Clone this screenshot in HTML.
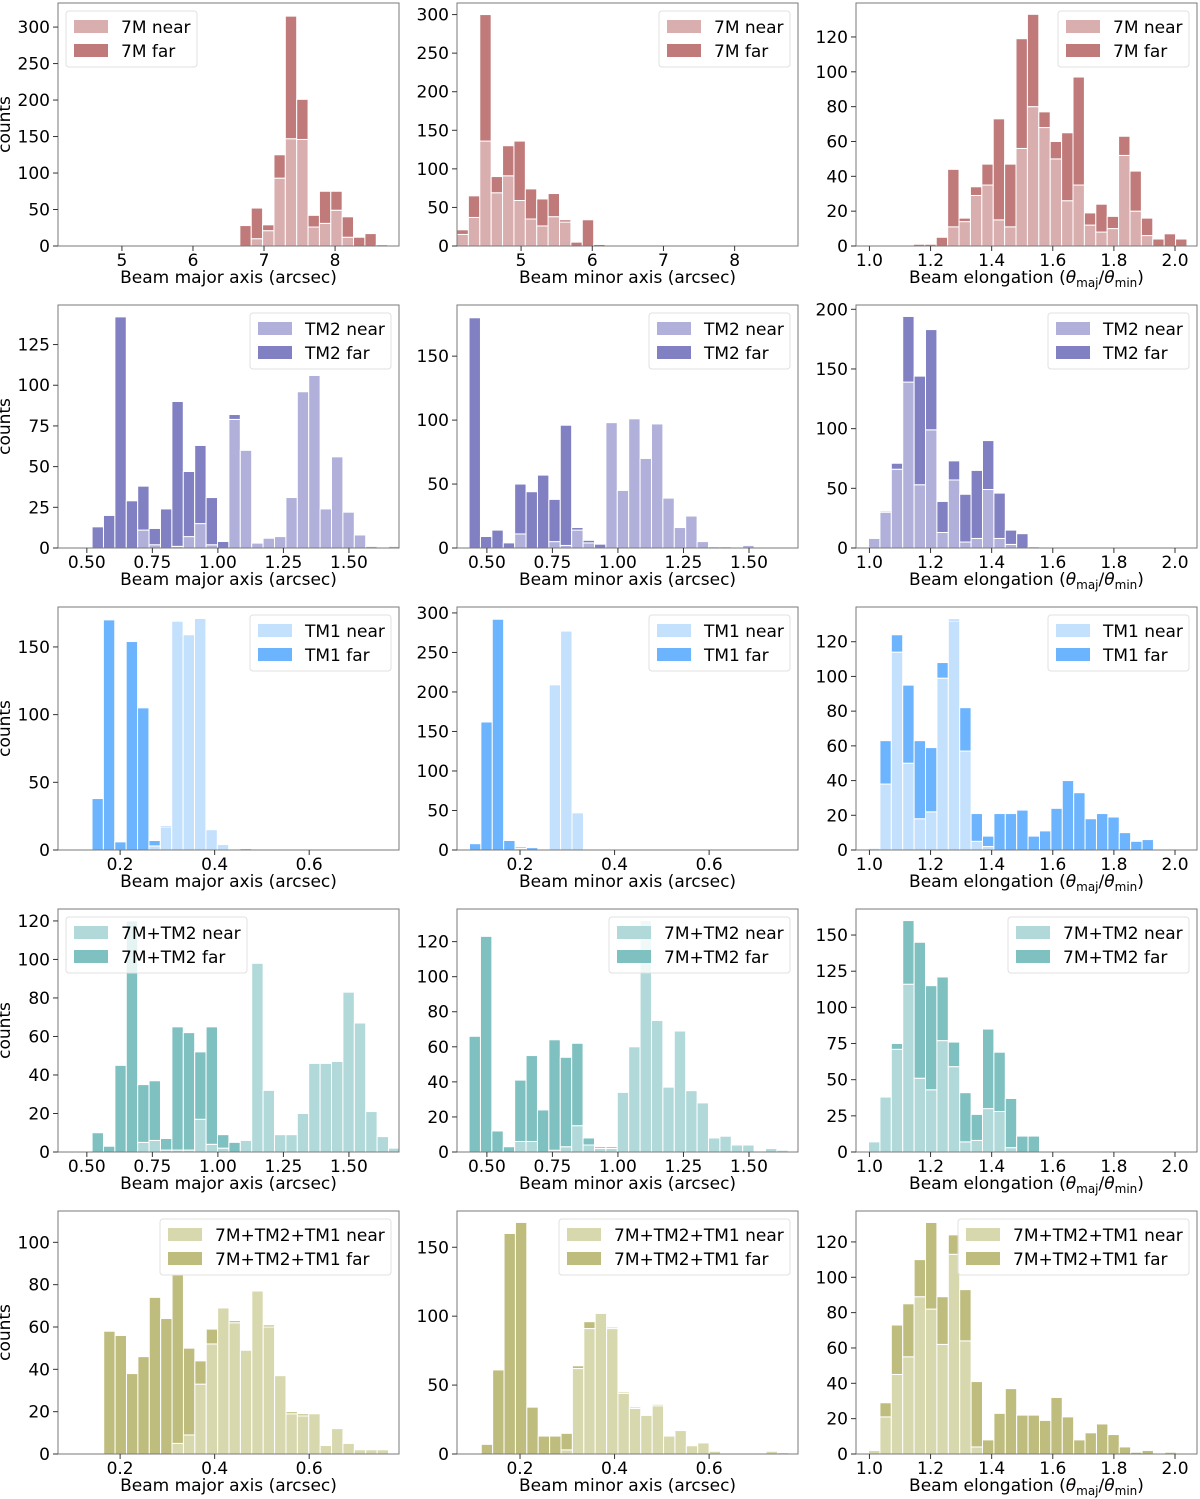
<!DOCTYPE html>
<html><head><meta charset="utf-8"><style>
body{margin:0;background:#fff;}
svg{display:block;font-family:"DejaVu Sans","Liberation Sans",sans-serif;}
</style></head><body>
<svg id="fig" width="1200" height="1499" viewBox="0 0 1200 1499" xmlns="http://www.w3.org/2000/svg"></svg>
<script>
// ---- data (counts per bin; near = bottom series, total = near+far) ----
const p11Near=[0,10,21,93,147,146,26,31,49,12,0,0,2,1];
const p11Total=[28,52,29,125,315,201,42,75,75,40,12,17,2,1];
const p12Near=[15,37,136,69,91,59,35,26,38,31,0,0,0];
const p12Total=[21,65,300,90,130,136,74,61,68,34,5,34,2];
const p13Near=[0,0,0,11,14,29,35,15,11,56,80,68,50,26,35,12,8,10,52,20,6,0,0,0];
const p13Total=[1,1,5,44,16,34,47,73,47,119,133,77,60,65,97,19,24,17,63,43,16,4,7,4];
const p21Near=[0,0,0,0,11,2,0,1,7,15,2,0,79,60,3,6,7,31,96,106,24,56,22,8,1,0,1];
const p21Total=[13,20,142,29,38,12,24,90,47,63,31,4,82,60,3,6,7,31,96,106,24,56,22,8,1,0,1];
const p22Near=[0,0,0,0,11,0,0,5,2,14,4,0,98,45,101,70,97,39,16,25,5,1,1,0,2];
const p22Total=[180,9,14,4,50,44,57,38,96,16,6,3,98,45,101,70,97,39,16,25,5,1,1,0,2];
const p23Near=[8,30,66,139,53,99,13,57,5,8,49,8,3,0,0];
const p23Total=[8,31,71,194,144,183,39,73,45,65,90,46,15,12,1];
const p31Near=[0,0,0,0,0,3,17,169,159,171,15,4,0,0];
const p31Total=[38,170,6,154,105,7,18,169,159,171,15,4,0,1];
const p32Near=[0,0,0,0,2,0,0,209,277,47,1,1,0];
const p32Total=[8,162,292,12,4,3,0,209,277,47,1,1,1];
const p33Near=[1,38,114,50,18,22,99,132,57,5,2,0,0,0,0,0,0,0,0,0,0,0,0,0,0];
const p33Total=[1,63,124,95,63,59,108,133,82,21,8,21,21,23,8,11,24,40,33,18,21,19,10,5,6];
const p41Near=[0,0,0,0,5,6,1,1,1,17,4,2,0,6,98,32,9,9,20,46,46,47,83,67,21,8,2];
const p41Total=[10,3,45,120,35,37,7,65,62,52,65,9,5,6,98,32,9,9,20,46,46,47,83,67,21,8,2];
const p42Near=[0,0,0,0,6,6,0,1,3,15,4,2,2,34,60,132,75,37,69,35,28,8,9,4,4,0,2,1];
const p42Total=[66,123,12,3,41,55,24,64,54,62,8,3,3,34,60,132,75,37,69,35,28,8,9,4,4,0,2,1];
const p43Near=[7,38,71,116,51,43,77,59,7,8,30,28,3,0,0];
const p43Total=[7,38,75,160,145,115,121,76,41,26,85,69,37,11,11];
const p51Near=[0,0,0,0,0,0,5,9,33,52,69,62,49,77,60,37,19,18,19,4,12,5,2,2,2];
const p51Total=[58,56,38,46,74,64,85,50,44,59,69,63,49,77,61,37,20,19,19,4,12,5,2,2,2];
const p52Near=[0,0,0,0,0,0,0,3,62,91,102,91,44,33,28,35,13,17,6,8,2,0,0,0,0,2,1];
const p52Total=[7,61,160,168,34,13,13,15,64,96,102,92,45,34,28,36,13,17,6,8,2,0,0,0,0,2,1];
const p53Near=[2,21,45,55,89,82,62,113,64,4,0,0,0,0,0,0,0,0,0,0,0,0,0,0,0,0,0];
const p53Total=[2,29,73,85,110,131,89,124,93,41,8,23,37,22,22,19,32,21,8,12,17,11,4,1,2,0,1];
// bin starts / widths (data units)
const binStarts=[[6.66,4.10,1.144],[0.52,0.432,0.997],[0.1405,0.0931,0.997],[0.52,0.432,0.997],[0.1653,0.118,0.997]];
const binWidths=[[0.16,0.16,0.0373],[0.0435,0.0435,0.0373],[0.0241,0.0241,0.0373],[0.0435,0.0435,0.0373],[0.0241,0.0241,0.0373]];
// axis ranges
const xRanges=[[[4.10,8.90],[4.10,8.89],[0.956,2.072]],[[0.39,1.691],[0.386,1.687],[0.956,2.072]],[[0.0686,0.790],[0.0667,0.788],[0.956,2.072]],[[0.39,1.691],[0.386,1.687],[0.956,2.072]],[[0.0686,0.790],[0.0667,0.788],[0.956,2.072]]];
const yMaxes=[[333,315,139.5],[149.3,190,203.6],[179.5,307.5,140],[126.2,138.6,168],[114.8,176.3,137.5]];
// tick labels
const xTicks7M=["5","6","7","8"];
const xTicksTM2=["0.50","0.75","1.00","1.25","1.50"];
const xTicksTM1=["0.2","0.4","0.6"];
const xTicksElong=["1.0","1.2","1.4","1.6","1.8","2.0"];
const yTicks=[[[0,50,100,150,200,250,300],[0,50,100,150,200,250,300],[0,20,40,60,80,100,120]],
[[0,25,50,75,100,125],[0,50,100,150],[0,50,100,150,200]],
[[0,50,100,150],[0,50,100,150,200,250,300],[0,20,40,60,80,100,120]],
[[0,20,40,60,80,100,120],[0,20,40,60,80,100,120],[0,25,50,75,100,125,150]],
[[0,20,40,60,80,100],[0,50,100,150],[0,20,40,60,80,100,120]]];
const rowNames=["7M","TM2","TM1","7M+TM2","7M+TM2+TM1"];

const nearArr=[[p11Near,p12Near,p13Near],[p21Near,p22Near,p23Near],[p31Near,p32Near,p33Near],[p41Near,p42Near,p43Near],[p51Near,p52Near,p53Near]];
const totArr=[[p11Total,p12Total,p13Total],[p21Total,p22Total,p23Total],[p31Total,p32Total,p33Total],[p41Total,p42Total,p43Total],[p51Total,p52Total,p53Total]];
const xTickSets=[[xTicks7M,xTicks7M,xTicksElong],[xTicksTM2,xTicksTM2,xTicksElong],[xTicksTM1,xTicksTM1,xTicksElong],[xTicksTM2,xTicksTM2,xTicksElong],[xTicksTM1,xTicksTM1,xTicksElong]];
const colors=[["#d9aeae","#c07a7a"],["#b0b0da","#8080c2"],["#c3e0fd","#6db4fe"],["#b2d9d9","#7fc0c0"],["#d8d8ae","#bfbd7e"]];
const legendW=[131,141,141,181,231];
const legendLeft=[[true,false,false],[false,false,false],[false,false,false],[true,false,false],[false,false,false]];
const colLeft=[58,457,856], rowTop=[3,305,607,909,1211], PW=341, PH=243;
const NS="http://www.w3.org/2000/svg";
const svg=document.getElementById("fig");
function mk(tag,attrs,parent){const e=document.createElementNS(NS,tag);for(const k in attrs)e.setAttribute(k,attrs[k]);(parent||svg).appendChild(e);return e;}

for(let r=0;r<5;r++){for(let c=0;c<3;c++){
  const L=colLeft[c],T=rowTop[r],B=T+PH,R=L+PW;
  const [xmin,xmax]=xRanges[r][c]; const ymax=yMaxes[r][c];
  const X=v=>L+(v-xmin)/(xmax-xmin)*PW;
  const Y=v=>B-v/ymax*PH;
  const g=mk("g",{});
  
  
  const clip=mk("clipPath",{id:"cp"+r+c},g); mk("rect",{x:L,y:T,width:PW,height:PH},clip);
  const bars=mk("g",{"clip-path":"url(#cp"+r+c+")"},g);
  const near=nearArr[r][c], tot=totArr[r][c], x0=binStarts[r][c], bw=binWidths[r][c];
  for(let i=0;i<tot.length;i++){
    const xa=X(x0+i*bw), xb=X(x0+(i+1)*bw);
    if(near[i]>0){
      const e=mk("rect",{x:xa,y:Y(near[i]),width:xb-xa,height:Y(0)-Y(near[i]),fill:colors[r][0],stroke:"#fff","stroke-width":1},bars);
      
      
    }
    if(tot[i]>near[i]){
      const e=mk("rect",{x:xa,y:Y(tot[i]),width:xb-xa,height:Y(near[i])-Y(tot[i]),fill:colors[r][1],stroke:"#fff","stroke-width":1},bars);
      
      
    }
  }
  const fr=mk("rect",{x:L,y:T,width:PW,height:PH,fill:"none",stroke:"#7a7a7a","stroke-width":1},g);
  
  
  // y ticks
  yTicks[r][c].forEach(v=>{const y=Y(v);
    mk("line",{x1:L-5,x2:L,y1:y,y2:y,stroke:"#333"},g);
    const t=mk("text",{x:L-8,y:y+6,"text-anchor":"end","font-size":17,fill:"#000"},g);t.textContent=v;
    
    
  });
  // x ticks
  xTickSets[r][c].forEach(s=>{const x=X(parseFloat(s));
    mk("line",{x1:x,x2:x,y1:B,y2:B+5,stroke:"#333"},g);
    const t=mk("text",{x:x,y:B+20,"text-anchor":"middle","font-size":17,fill:"#000"},g);t.textContent=s;
    
    
  });
  // x label
  const xl=mk("text",{x:(L+R)/2,y:B+37,"text-anchor":"middle","font-size":17,fill:"#000"},g);
  
  
  if(c===0) xl.textContent="Beam major axis (arcsec)";
  else if(c===1) xl.textContent="Beam minor axis (arcsec)";
  else xl.innerHTML='Beam elongation (<tspan font-style="italic">θ</tspan><tspan font-size="12" dy="4">maj</tspan><tspan dy="-4">/</tspan><tspan font-style="italic">θ</tspan><tspan font-size="12" dy="4">min</tspan><tspan dy="-4">)</tspan>';
  if(c===0){const yl=mk("text",{x:10,y:(T+B)/2,"text-anchor":"middle","font-size":17,fill:"#000",transform:"rotate(-90 10 "+((T+B)/2)+")"},g);yl.textContent="counts";
    
    }
  // legend
  const lw=legendW[r]; const lx=legendLeft[r][c]?L+8:R-8-lw; const ly=T+8;
  const lg=mk("g",{},g);
  
  
  mk("rect",{x:lx,y:ly,width:lw,height:56,rx:3,fill:"#fff","fill-opacity":0.8,stroke:"#e0e0e0"},lg);
  ["near","far"].forEach((s,k)=>{
    const it=mk("g",{},lg);
    
    
    mk("rect",{x:lx+8,y:ly+9+k*24,width:34,height:13,fill:colors[r][k]},it);
    const t=mk("text",{x:lx+55,y:ly+22+k*24,"font-size":17,fill:"#000"},it);t.textContent=rowNames[r]+" "+s;
  });
}}
</script>
</body></html>
